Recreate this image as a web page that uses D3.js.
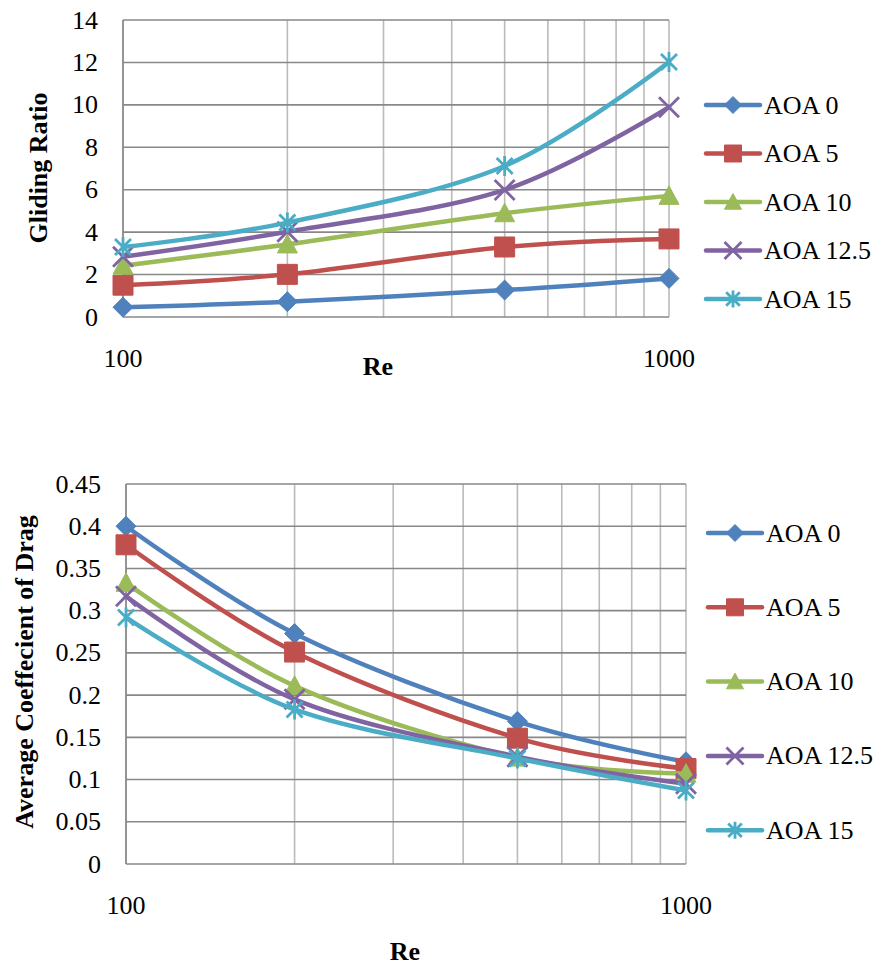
<!DOCTYPE html>
<html>
<head>
<meta charset="utf-8">
<script src="https://cdn.jsdelivr.net/npm/d3@7"></script>
<style>
  html, body { margin: 0; padding: 0; background: #fff; }
  svg { display: block; }
  text { font-family: "Liberation Serif", "Times New Roman", "DejaVu Serif", serif; fill: #000; }
</style>
</head>
<body>
<svg id="chart" width="882" height="965"></svg>
<script>
// ---- data ----
const reValues = [100, 200, 500, 1000];
const seriesNames = ["AOA 0", "AOA 5", "AOA 10", "AOA 12.5", "AOA 15"];
const seriesColors = ["#4F81BD", "#C0504D", "#9BBB59", "#8064A2", "#4BACC6"];
const seriesMarkers = ["diamond", "square", "triangle", "x", "star"];

const glidingAoa0   = [0.46, 0.72, 1.27, 1.82];
const glidingAoa5   = [1.50, 2.01, 3.30, 3.68];
const glidingAoa10  = [2.42, 3.42, 4.89, 5.71];
const glidingAoa125 = [2.84, 4.02, 5.99, 9.89];
const glidingAoa15  = [3.30, 4.45, 7.12, 12.02];

const dragAoa0   = [0.400, 0.273, 0.169, 0.121];
const dragAoa5   = [0.378, 0.251, 0.149, 0.113];
const dragAoa10  = [0.333, 0.211, 0.126, 0.107];
const dragAoa125 = [0.317, 0.195, 0.127, 0.095];
const dragAoa15  = [0.292, 0.183, 0.125, 0.087];

const glidingTicks = [0, 2, 4, 6, 8, 10, 12, 14];
const glidingTickLabels = ["0", "2", "4", "6", "8", "10", "12", "14"];
const dragTicks = [0, 0.05, 0.1, 0.15, 0.2, 0.25, 0.3, 0.35, 0.4, 0.45];
const dragTickLabels = ["0", "0.05", "0.1", "0.15", "0.2", "0.25", "0.3", "0.35", "0.4", "0.45"];
const xGridValues = [100, 200, 300, 400, 500, 600, 700, 800, 900, 1000];
const xTickValues = [100, 1000];
const xTickLabels = ["100", "1000"];

const svg = d3.select("#chart");

function markerPath(type, s) {
  const h = s / 2;
  switch (type) {
    case "diamond": return `M0,${-h}L${h},0L0,${h}L${-h},0Z`;
    case "square": return `M${-h},${-h}H${h}V${h}H${-h}Z`;
    case "triangle": return `M0,${-h}L${h},${h*0.85}L${-h},${h*0.85}Z`;
    case "x": return `M${-h},${-h}L${h},${h}M${h},${-h}L${-h},${h}`;
    case "star": return `M${-h*0.8},${-h*0.8}L${h*0.8},${h*0.8}M${h*0.8},${-h*0.8}L${-h*0.8},${h*0.8}M0,${-h}V${h}`;
  }
}

function drawMarker(g, type, color, x, y, s) {
  const filled = (type === "diamond" || type === "square" || type === "triangle");
  g.append("path")
    .attr("transform", `translate(${x},${y})`)
    .attr("d", markerPath(type, s))
    .attr("fill", filled ? color : "none")
    .attr("stroke", color)
    .attr("stroke-width", filled ? 1 : 2.8)
    .attr("stroke-linejoin", "miter");
}

function drawChart(cfg) {
  const g = svg.append("g");
  const x = d3.scaleLog().domain([100, 1000]).range([cfg.left, cfg.right]);
  const y = d3.scaleLinear().domain([cfg.yTicks[0], cfg.yTicks[cfg.yTicks.length - 1]]).range([cfg.bottom, cfg.top]);

  // vertical grid (light)
  g.append("g").selectAll("line").data(xGridValues).join("line")
    .attr("x1", d => x(d)).attr("x2", d => x(d))
    .attr("y1", cfg.top).attr("y2", cfg.bottom)
    .attr("stroke", "#BBBBBB").attr("stroke-width", 1.6);
  // horizontal grid (darker)
  g.append("g").selectAll("line").data(cfg.yTicks).join("line")
    .attr("x1", cfg.left).attr("x2", cfg.right)
    .attr("y1", d => y(d)).attr("y2", d => y(d))
    .attr("stroke", "#888888").attr("stroke-width", 1.6);
  // left axis line
  g.append("line").attr("x1", cfg.left).attr("x2", cfg.left)
    .attr("y1", cfg.top).attr("y2", cfg.bottom)
    .attr("stroke", "#888888").attr("stroke-width", 1.6);

  // y tick labels
  g.append("g").selectAll("text").data(cfg.yTicks).join("text")
    .attr("x", cfg.left - 25).attr("y", d => y(d))
    .attr("text-anchor", "end").attr("dominant-baseline", "central")
    .style("font-size", "26px")
    .text((d, i) => cfg.yTickLabels[i]);
  // x tick labels
  g.append("g").selectAll("text").data(xTickValues).join("text")
    .attr("x", d => x(d)).attr("y", cfg.bottom + 41)
    .attr("text-anchor", "middle").attr("dominant-baseline", "central")
    .style("font-size", "26px")
    .text((d, i) => xTickLabels[i]);

  // axis titles
  g.append("text").attr("x", cfg.xTitleX).attr("y", cfg.xTitleY)
    .attr("text-anchor", "middle").attr("dominant-baseline", "central")
    .style("font-size", "26px").style("font-weight", "bold").text("Re");
  g.append("text")
    .attr("transform", `translate(${cfg.yTitleX},${cfg.yTitleY}) rotate(-90)`)
    .attr("text-anchor", "middle").attr("dominant-baseline", "central")
    .style("font-size", "26px").style("font-weight", "bold").text(cfg.yTitle);

  // series
  const line = d3.line().x(d => x(d[0])).y(d => y(d[1])).curve(d3.curveCardinal.tension(0));
  cfg.series.forEach((vals, si) => {
    const pts = reValues.map((r, i) => [r, vals[i]]);
    g.append("path").attr("d", line(pts))
      .attr("fill", "none").attr("stroke", seriesColors[si])
      .attr("stroke-width", 4.5).attr("stroke-linejoin", "round").attr("stroke-linecap", "round");
    pts.forEach(p => drawMarker(g, seriesMarkers[si], seriesColors[si], x(p[0]), y(p[1]), 20));
  });

  // legend
  seriesNames.forEach((name, si) => {
    const ly = cfg.legendY0 + si * cfg.legendStep;
    g.append("line").attr("x1", cfg.legendX).attr("x2", cfg.legendX + 54)
      .attr("y1", ly).attr("y2", ly)
      .attr("stroke", seriesColors[si]).attr("stroke-width", 4.5).attr("stroke-linecap", "round");
    drawMarker(g, seriesMarkers[si], seriesColors[si], cfg.legendX + 27, ly, 17);
    g.append("text").attr("x", cfg.legendX + 58).attr("y", ly)
      .attr("dominant-baseline", "central").style("font-size", "26px").text(name);
  });
}

drawChart({
  left: 123, right: 669, top: 20, bottom: 317,
  yTicks: glidingTicks, yTickLabels: glidingTickLabels,
  yTitle: "Gliding Ratio", yTitleX: 38, yTitleY: 168,
  xTitleX: 378, xTitleY: 366,
  series: [glidingAoa0, glidingAoa5, glidingAoa10, glidingAoa125, glidingAoa15],
  legendX: 706, legendY0: 105, legendStep: 48.5
});

drawChart({
  left: 126, right: 686, top: 484, bottom: 864,
  yTicks: dragTicks, yTickLabels: dragTickLabels,
  yTitle: "Average Coeffecient of Drag", yTitleX: 24, yTitleY: 672,
  xTitleX: 405, xTitleY: 951,
  series: [dragAoa0, dragAoa5, dragAoa10, dragAoa125, dragAoa15],
  legendX: 708, legendY0: 533, legendStep: 74.3
});
</script>
</body>
</html>
